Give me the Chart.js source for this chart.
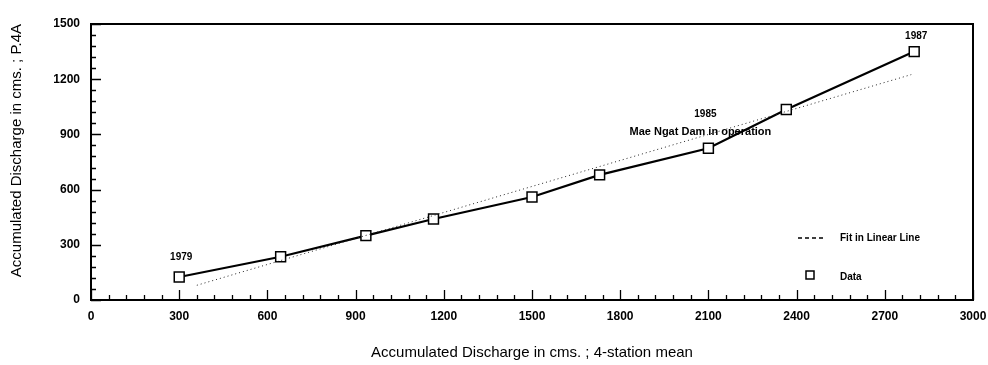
<!DOCTYPE html>
<html>
<head>
<meta charset="utf-8">
<script src="https://cdn.jsdelivr.net/npm/chart.js@4.4.1/dist/chart.umd.min.js"></script>
<style>
  html, body { margin: 0; padding: 0; background: #fff; }
  .wrap { width: 988px; height: 365px; }
</style>
</head>
<body>
<div class="wrap"><canvas id="c" width="988" height="365"></canvas></div>
<script>
// accumulated discharge, 4-station mean (x) vs P.4A (y), years 1979-1987
const years = [1979, 1980, 1981, 1982, 1983, 1984, 1985, 1986, 1987];
const meanQ = [300, 645, 935, 1165, 1500, 1730, 2100, 2365, 2800];
const p4aQ = [125, 235, 350, 440, 560, 680, 825, 1035, 1350];

// linear fit, ends
const fitX = [360, 2790];
const fitY = [80, 1225];

// labelled points
const noteYears = [1979, 1985, 1987];
const noteText = ['', 'Mae Ngat Dam in operation', ''];

const xTicks = [0, 300, 600, 900, 1200, 1500, 1800, 2100, 2400, 2700, 3000];
const yTicks = [0, 300, 600, 900, 1200, 1500];

const FONT = '"Liberation Sans", Arial, sans-serif';

const frame = {
  id: 'frame',
  afterDraw(chart) {
    const { ctx, chartArea: a, scales: { x, y } } = chart;
    ctx.save();
    ctx.strokeStyle = '#000';
    ctx.lineWidth = 2;
    ctx.strokeRect(a.left, a.top, a.width, a.height);

    // inward tick marks, long ones on labelled values
    ctx.lineWidth = 1.3;
    ctx.beginPath();
    x.ticks.forEach(t => {
      const px = Math.round(x.getPixelForValue(t.value)) + 0.5;
      const len = xTicks.includes(t.value) ? 10 : 5;
      ctx.moveTo(px, a.bottom);
      ctx.lineTo(px, a.bottom - len);
    });
    y.ticks.forEach(t => {
      const py = Math.round(y.getPixelForValue(t.value)) + 0.5;
      const len = yTicks.includes(t.value) ? 10 : 5;
      ctx.moveTo(a.left, py);
      ctx.lineTo(a.left + len, py);
    });
    ctx.stroke();

    // year notes over the data points
    const pts = chart.getDatasetMeta(1).data;
    ctx.fillStyle = '#000';
    ctx.textAlign = 'center';
    ctx.textBaseline = 'middle';
    noteYears.forEach((yr, i) => {
      const p = pts[years.indexOf(yr)];
      if (noteText[i]) {
        ctx.font = 'bold 10px ' + FONT;
        ctx.fillText(String(yr), p.x - 3, p.y - 34);
        ctx.font = 'bold 11px ' + FONT;
        ctx.fillText(noteText[i], p.x - 8, p.y - 16);
      } else {
        ctx.font = 'bold 10px ' + FONT;
        ctx.fillText(String(yr), p.x + 2, p.y - (i === 0 ? 20 : 15));
      }
    });

    // legend inside the plot, lower right
    const ds = chart.data.datasets;
    const lx = a.right - 175, ly1 = a.bottom - 62, ly2 = a.bottom - 24;
    ctx.textAlign = 'left';
    ctx.font = 'bold 10px ' + FONT;
    ctx.lineWidth = 1.5;
    ctx.setLineDash([4, 3]);
    ctx.beginPath();
    ctx.moveTo(lx, ly1);
    ctx.lineTo(lx + 27, ly1);
    ctx.stroke();
    ctx.setLineDash([]);
    ctx.fillText(ds[0].label, lx + 42, ly1);
    ctx.lineWidth = 1.5;
    ctx.strokeRect(lx + 8, ly2 - 5, 8, 8);
    ctx.fillText(ds[1].label, lx + 42, ly2 + 1);
    ctx.restore();
  }
};

new Chart(document.getElementById('c'), {
  type: 'scatter',
  data: {
    datasets: [
      {
        label: 'Fit in Linear Line',
        data: fitX.map((v, i) => ({ x: v, y: fitY[i] })),
        showLine: true,
        borderColor: '#222',
        borderWidth: 1,
        borderDash: [1, 3],
        pointRadius: 0
      },
      {
        label: 'Data',
        data: meanQ.map((v, i) => ({ x: v, y: p4aQ[i] })),
        showLine: true,
        borderColor: '#000',
        borderWidth: 2.2,
        pointStyle: 'rect',
        pointRadius: 7,
        pointBorderWidth: 1.5,
        pointBorderColor: '#000',
        pointBackgroundColor: '#fff'
      }
    ]
  },
  options: {
    responsive: false,
    animation: false,
    layout: { padding: { top: 24, right: 0, left: 0, bottom: 0 } },
    plugins: { legend: { display: false }, tooltip: { enabled: false } },
    scales: {
      x: {
        type: 'linear',
        min: 0,
        max: 3000,
        grid: { display: false, drawTicks: false },
        border: { display: false },
        afterFit: s => { s.height = 65; s.paddingRight = 15; s.paddingLeft = 0; },
        ticks: {
          stepSize: 60,
          autoSkip: false,
          maxRotation: 0,
          padding: 9,
          color: '#000',
          font: { family: FONT, size: 12, weight: 'bold' },
          callback: v => xTicks.includes(v) ? v : ''
        },
        title: {
          display: true,
          text: 'Accumulated Discharge in cms. ; 4-station mean',
          color: '#000',
          font: { family: FONT, size: 15 },
          padding: { top: 0, bottom: 3 }
        }
      },
      y: {
        type: 'linear',
        min: 0,
        max: 1500,
        grid: { display: false, drawTicks: false },
        border: { display: false },
        afterFit: s => { s.width = 91; },
        ticks: {
          stepSize: 60,
          autoSkip: false,
          padding: 11,
          color: '#000',
          font: { family: FONT, size: 12, weight: 'bold' },
          callback: v => yTicks.includes(v) ? v : ''
        },
        title: {
          display: true,
          text: 'Accumulated Discharge in cms. ; P.4A',
          align: 'end',
          color: '#000',
          font: { family: FONT, size: 15 },
          padding: { top: 8, bottom: 0 }
        }
      }
    }
  },
  plugins: [frame]
});
</script>
</body>
</html>
